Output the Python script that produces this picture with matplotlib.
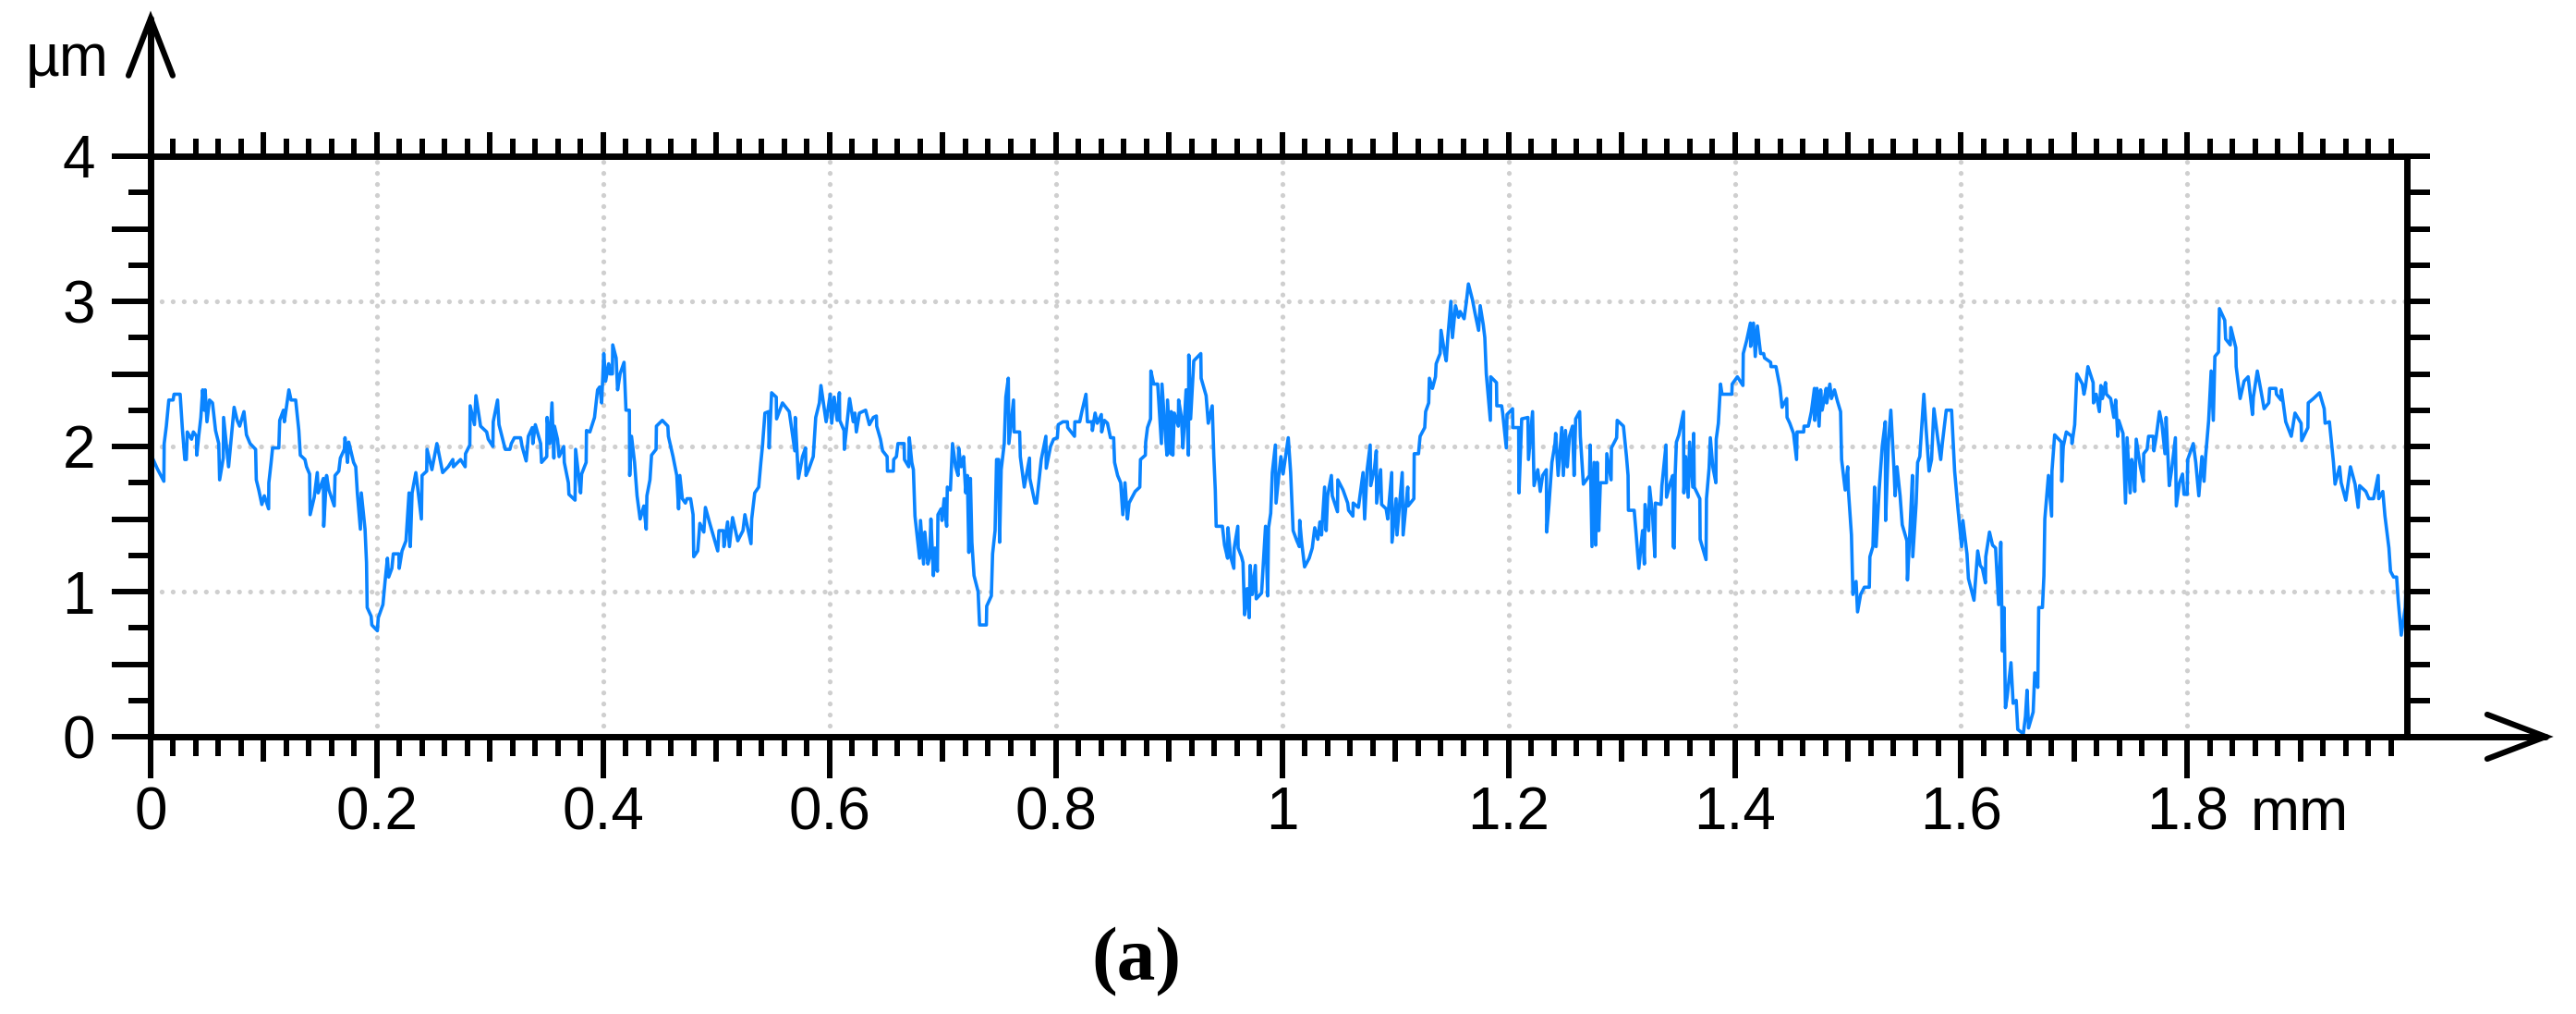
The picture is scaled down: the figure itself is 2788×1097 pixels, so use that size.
import numpy as np
import matplotlib
matplotlib.use("Agg")
import matplotlib.pyplot as plt
import matplotlib.transforms as mtransforms
from matplotlib.ticker import MultipleLocator, FixedLocator, FuncFormatter

plt.rcParams['font.family'] = ['Liberation Sans', 'DejaVu Sans']
plt.rcParams['lines.scale_dashes'] = False

# surface profile: (position mm, height um)
seg_a = [(0.000,1.95),(0.0057,1.85),(0.0117,1.76),(0.0120,2.02),(0.0139,2.14),(0.0161,2.32),(0.0199,2.32),(0.0207,2.36),(0.0261,2.36),(0.0280,2.13),(0.0302,1.91),(0.0316,1.91),(0.0324,2.10),(0.0362,2.05),(0.0378,2.10),(0.0406,2.07),(0.0408,1.94),(0.0425,2.07),(0.0444,2.20),(0.0460,2.39),(0.0474,2.25),(0.0482,2.39),(0.0498,2.17),(0.0520,2.32),(0.0547,2.30),(0.0574,2.11),(0.0602,2.02),(0.0610,1.77),(0.0642,1.92),(0.0645,2.20),(0.0689,1.86),(0.0738,2.27),(0.0765,2.18),(0.0787,2.14),(0.0825,2.24),(0.0847,2.08),(0.0879,2.02),(0.0928,1.98),(0.0934,1.77),(0.0956,1.70),(0.0983,1.60),(0.1005,1.66),(0.1043,1.57),(0.1045,1.75),(0.1065,1.89),(0.1078,1.99),(0.1133,1.99),(0.1141,2.18),(0.1174,2.25),(0.1182,2.17),(0.1222,2.39),(0.1241,2.32),(0.1282,2.32),(0.1310,2.11),(0.1323,1.94),(0.1364,1.91),(0.1378,1.86),(0.1405,1.81),(0.1410,1.53),(0.1446,1.65),(0.1473,1.82),(0.1481,1.68),(0.1527,1.78),(0.1530,1.45),(0.1555,1.80),(0.1576,1.70),(0.1623,1.59),(0.1630,1.80),(0.1663,1.83),(0.1677,1.92),(0.1712,1.98),(0.1718,2.06),(0.1740,1.89),(0.1751,2.03),(0.1794,1.89),(0.1813,1.86),(0.1827,1.68),(0.1854,1.43),(0.1862,1.68),(0.1895,1.43),(0.1908,1.20),(0.1914,0.89),(0.1949,0.83),(0.1955,0.77),(0.2004,0.73),(0.2012,0.82),(0.2053,0.91),(0.2072,1.07),(0.2093,1.23),(0.2104,1.10),(0.2132,1.16),(0.2145,1.26),(0.2194,1.26),(0.2197,1.16),(0.2222,1.28),(0.2257,1.35),(0.2284,1.68),(0.2295,1.31),(0.2311,1.68),(0.2344,1.82),(0.2393,1.50),(0.2399,1.80),(0.2440,1.83),(0.2443,1.98),(0.2486,1.84),(0.2508,1.93),(0.2530,2.02),(0.2581,1.82),(0.2630,1.86),(0.2671,1.91),(0.2676,1.86),(0.2739,1.91),(0.2780,1.86),(0.2783,1.95),(0.2821,2.01),(0.2824,2.28),(0.2862,2.15),(0.2875,2.35),(0.2916,2.14),(0.2970,2.10),(0.2984,2.05),(0.3025,2.00),(0.3028,2.17),(0.3066,2.32),(0.3079,2.15),(0.3134,1.98),(0.3175,1.98),(0.3188,2.02),(0.3215,2.06),(0.3270,2.06),(0.3283,2.00),(0.3319,1.90)]

seg_b = [(0.3338,2.07),(0.3373,2.13),(0.3378,2.02),(0.3400,2.15),(0.3447,2.02),(0.3455,1.89),(0.3501,1.93),(0.3504,2.20),(0.3528,2.02),(0.3547,2.30),(0.3564,1.92),(0.3569,2.14),(0.3596,2.05),(0.3610,1.93),(0.3651,2.00),(0.3656,1.89),(0.3692,1.75),(0.3697,1.67),(0.3751,1.63),(0.3756,1.98),(0.3800,1.68),(0.3809,1.81),(0.3849,1.89),(0.3852,2.11),(0.3882,2.10),(0.3923,2.20),(0.3950,2.39),(0.3969,2.41),(0.3986,2.30),(0.4005,2.64),(0.4021,2.45),(0.4048,2.57),(0.4059,2.50),(0.4081,2.50),(0.4084,2.70),(0.4114,2.61),(0.4127,2.39),(0.4149,2.50),(0.4184,2.58),(0.4201,2.25),(0.4231,2.25),(0.4234,1.80),(0.4250,2.07),(0.4277,1.89),(0.4299,1.66),(0.4326,1.50),(0.4359,1.59),(0.4380,1.43),(0.4386,1.66),(0.4413,1.77),(0.4427,1.94),(0.4467,1.98),(0.4470,2.14),(0.4522,2.18),(0.4571,2.14),(0.4576,2.07),(0.4617,1.93),(0.4650,1.80),(0.4666,1.57),(0.4677,1.80),(0.4699,1.64),(0.4726,1.61),(0.4740,1.64),(0.4772,1.64),(0.4794,1.53),(0.4800,1.24),(0.4835,1.28),(0.4854,1.47),(0.4889,1.41),(0.4903,1.58),(0.4938,1.48),(0.4971,1.39),(0.5012,1.28),(0.5023,1.42),(0.5061,1.42),(0.5067,1.31),(0.5099,1.48),(0.5115,1.31),(0.5143,1.51),(0.5189,1.35),(0.5235,1.42),(0.5252,1.53),(0.5306,1.33),(0.5312,1.50),(0.5339,1.68),(0.5374,1.72),(0.5393,1.89),(0.5407,2.00),(0.5429,2.23),(0.5461,2.24),(0.5466,1.99),(0.5488,2.37),(0.5529,2.34),(0.5532,2.19),(0.5584,2.30),(0.5644,2.24),(0.5693,1.97),(0.5697,2.20),(0.5725,1.78),(0.5761,1.93),(0.5788,1.99),(0.5792,1.80),(0.5815,1.84),(0.5856,1.93),(0.5878,2.20),(0.5910,2.30),(0.5924,2.42),(0.5970,2.17),(0.6006,2.36),(0.6019,2.16),(0.6041,2.34),(0.6068,2.18),(0.6087,2.37),(0.6090,2.18),(0.6128,2.11),(0.6131,1.98),(0.6155,2.16),(0.6177,2.33),(0.6210,2.17),(0.6224,2.23),(0.6237,2.10),(0.6264,2.23),(0.6319,2.25),(0.6352,2.15),(0.6387,2.20),(0.6414,2.21),(0.6417,2.14),(0.6450,2.05),(0.6469,1.97),(0.6509,1.93),(0.6512,1.83),(0.6564,1.83),(0.6567,1.91),(0.6591,1.93),(0.6605,2.02),(0.6659,2.02),(0.6662,1.91),(0.6700,1.86),(0.6705,2.06),(0.6727,1.89)]

seg_c = [(0.6741,1.84),(0.6755,1.52),(0.6796,1.23),(0.6804,1.49),(0.6831,1.19),(0.6842,1.41),(0.6869,1.19),(0.6885,1.24),(0.6896,1.50),(0.6918,1.11),(0.6932,1.30),(0.6953,1.14),(0.6958,1.53),(0.6986,1.57),(0.6994,1.49),(0.7013,1.64),(0.7035,1.45),(0.7041,1.72),(0.7068,1.70),(0.7087,2.02),(0.7114,1.86),(0.7136,1.80),(0.7141,1.99),(0.7163,1.86),(0.7185,1.93),(0.7204,1.68),(0.7218,1.80),(0.7231,1.27),(0.7245,1.78),(0.7258,1.34),(0.7277,1.11),(0.7313,1.00),(0.7326,0.77),(0.7386,0.77),(0.7389,0.90),(0.7430,0.97),(0.7441,1.26),(0.7463,1.42),(0.7476,1.91),(0.7495,1.91),(0.7503,1.34),(0.7517,1.84),(0.7544,2.02),(0.7558,2.34),(0.7580,2.47),(0.7585,2.02),(0.7626,2.32),(0.7631,2.10),(0.7680,2.10),(0.7686,1.93),(0.7721,1.72),(0.7767,1.92),(0.7770,1.78),(0.7816,1.61),(0.7830,1.61),(0.7871,1.91),(0.7912,2.07),(0.7915,1.85),(0.7953,2.00),(0.7980,2.05),(0.8013,2.06),(0.8021,2.15),(0.8062,2.17),(0.8102,2.17),(0.8105,2.13),(0.8165,2.07),(0.8168,2.17),(0.8211,2.17),(0.8230,2.24),(0.8266,2.36),(0.8279,2.17),(0.8320,2.17),(0.8323,2.11),(0.8347,2.23),(0.8366,2.16),(0.8402,2.22),(0.8405,2.10),(0.8429,2.18),(0.8456,2.16),(0.8483,2.06),(0.8511,2.06),(0.8519,1.89),(0.8546,1.80),(0.8573,1.75),(0.8592,1.53),(0.8611,1.75),(0.8633,1.50),(0.8647,1.61),(0.8701,1.69),(0.8742,1.72),(0.8748,1.91),(0.8791,1.94),(0.8794,2.03),(0.8810,2.13),(0.8837,2.19),(0.8840,2.52),(0.8865,2.43),(0.8900,2.43),(0.8933,2.02),(0.8938,2.43),(0.8965,2.11),(0.8982,1.94),(0.8987,2.32),(0.9014,1.95),(0.9020,2.24),(0.9034,1.94),(0.9047,2.23),(0.9082,2.14),(0.9085,2.32),(0.9110,2.20),(0.9123,1.99),(0.9151,2.39),(0.9172,1.94),(0.9175,2.63),(0.9191,2.19),(0.9219,2.59),(0.9281,2.64),(0.9284,2.47),(0.9328,2.35),(0.9347,2.16),(0.9382,2.28),(0.9396,1.93),(0.9409,1.70),(0.9417,1.45),(0.9472,1.45),(0.9491,1.32),(0.9518,1.23),(0.9521,1.44),(0.9545,1.24),(0.9573,1.16),(0.9576,1.30),(0.9608,1.45),(0.9611,1.30),(0.9641,1.24),(0.9654,1.20),(0.9668,0.84),(0.9690,1.02),(0.9709,0.82),(0.9717,1.18),(0.9736,0.98),(0.9763,1.18),(0.9771,0.95),(0.9818,0.99),(0.9831,1.16),(0.9853,1.45),(0.9872,0.97),(0.9880,1.44),(0.9899,1.54),(0.9913,1.82),(0.9940,2.01),(0.9946,1.61),(0.9973,1.82),(0.9989,1.93),(1.0008,1.81)]

seg_d = [(1.0054,2.06),(1.0075,1.82),(1.0097,1.42),(1.0130,1.35),(1.0152,1.31),(1.0155,1.49),(1.0171,1.35),(1.0198,1.17),(1.0239,1.23),(1.0266,1.30),(1.0288,1.44),(1.0315,1.36),(1.0334,1.48),(1.0348,1.39),(1.0375,1.72),(1.0389,1.42),(1.0402,1.66),(1.0435,1.80),(1.0443,1.66),(1.0489,1.55),(1.0492,1.77),(1.0538,1.70),(1.0579,1.61),(1.0587,1.56),(1.0625,1.52),(1.0628,1.61),(1.0674,1.58),(1.0715,1.82),(1.0729,1.50),(1.0751,1.84),(1.0778,2.01),(1.0783,1.73),(1.0816,1.85),(1.0832,1.97),(1.0835,1.61),(1.0870,1.84),(1.0879,1.60),(1.0919,1.57),(1.0933,1.50),(1.0968,1.82),(1.0971,1.34),(1.1007,1.64),(1.1015,1.39),(1.1042,1.64),(1.1061,1.82),(1.1069,1.39),(1.1110,1.72),(1.1113,1.59),(1.1164,1.64),(1.1167,1.95),(1.1205,1.95),(1.1219,2.07),(1.1260,2.13),(1.1268,2.24),(1.1295,2.30),(1.1301,2.47),(1.1328,2.40),(1.1355,2.48),(1.1361,2.57),(1.1396,2.64),(1.1404,2.80),(1.1437,2.64),(1.1450,2.59),(1.1464,2.75),(1.1491,3.00),(1.1505,2.75),(1.1532,2.97),(1.1559,2.89),(1.1573,2.93),(1.1608,2.88),(1.1627,2.99),(1.1646,3.12),(1.1682,3.01),(1.1704,2.92),(1.1736,2.80),(1.1750,2.97),(1.1777,2.84),(1.1791,2.75),(1.1804,2.50),(1.1840,2.18),(1.1843,2.48),(1.1894,2.44),(1.1897,2.28),(1.1940,2.28),(1.1949,2.23),(1.1981,1.99),(1.1987,2.22),(1.2036,2.26),(1.2039,2.13),(1.2090,2.13),(1.2093,1.68),(1.2117,2.19),(1.2172,2.20),(1.2177,1.91),(1.2213,2.24),(1.2226,1.73),(1.2259,1.84),(1.2281,1.69),(1.2302,1.80),(1.2335,1.84),(1.2338,1.41),(1.2357,1.59),(1.2384,1.89),(1.2411,2.02),(1.2417,2.09),(1.2439,1.80),(1.2471,2.13),(1.2485,1.80),(1.2504,2.11),(1.2520,1.86),(1.2539,2.07),(1.2566,2.14),(1.2580,1.80),(1.2594,2.19),(1.2629,2.24),(1.2635,2.07),(1.2662,1.74),(1.2716,1.80),(1.2722,2.01),(1.2738,1.31),(1.2757,1.89),(1.2771,1.32),(1.2784,1.89),(1.2798,1.42),(1.2812,1.75),(1.2866,1.75),(1.2869,1.95),(1.2907,1.77),(1.2910,1.99),(1.2956,2.06),(1.2961,2.18),(1.3016,2.14),(1.3043,1.93),(1.3057,1.80),(1.3060,1.56),(1.3111,1.56),(1.3125,1.43),(1.3152,1.16),(1.3185,1.42),(1.3201,1.19),(1.3207,1.60),(1.3239,1.42),(1.3247,1.72),(1.3274,1.52),(1.3294,1.24),(1.3298,1.61),(1.3348,1.60),(1.3356,1.73)]

seg_e = [(1.3392,2.01),(1.3397,1.65),(1.3430,1.75),(1.3452,1.80),(1.3455,1.31),(1.3465,1.30),(1.3473,1.80),(1.3484,2.03),(1.3506,2.08),(1.3547,2.24),(1.3550,1.68),(1.3566,1.93),(1.3588,1.65),(1.3601,2.03),(1.3629,1.72),(1.3637,2.09),(1.3642,1.72),(1.3691,1.64),(1.3694,1.36),(1.3746,1.22),(1.3750,1.64),(1.3773,1.85),(1.3784,2.06),(1.3806,1.86),(1.3833,1.75),(1.3836,2.05),(1.3855,2.16),(1.3874,2.43),(1.3887,2.36),(1.3974,2.36),(1.3977,2.43),(1.4023,2.48),(1.4072,2.42),(1.4075,2.64),(1.4105,2.73),(1.4138,2.85),(1.4140,2.69),(1.4165,2.85),(1.4181,2.62),(1.4200,2.83),(1.4228,2.64),(1.4255,2.64),(1.4263,2.61),(1.4317,2.58),(1.4320,2.55),(1.4364,2.55),(1.4399,2.41),(1.4418,2.27),(1.4459,2.33),(1.4462,2.20),(1.4486,2.16),(1.4519,2.09),(1.4546,1.91),(1.4550,2.10),(1.4609,2.10),(1.4612,2.14),(1.4650,2.14),(1.4677,2.24),(1.4704,2.40),(1.4707,2.18),(1.4726,2.40),(1.4745,2.14),(1.4759,2.39),(1.4772,2.25),(1.4808,2.40),(1.4813,2.30),(1.4840,2.43),(1.4854,2.33),(1.4881,2.39),(1.4908,2.31),(1.4935,2.24),(1.4944,1.91),(1.4976,1.70),(1.4998,1.86),(1.5004,1.70),(1.5031,1.39),(1.5044,0.98),(1.5072,1.07),(1.5085,0.86),(1.5112,0.98),(1.5145,1.03),(1.5189,1.03),(1.5194,1.24),(1.5221,1.31),(1.5235,1.72),(1.5249,1.31),(1.5276,1.70),(1.5303,2.00),(1.5330,2.17),(1.5333,1.49),(1.5358,2.03),(1.5379,2.25),(1.5406,1.86),(1.5417,1.66),(1.5434,1.86),(1.5461,1.66),(1.5480,1.46),(1.5521,1.35),(1.5526,1.08),(1.5548,1.42),(1.5570,1.80),(1.5573,1.24),(1.5603,1.61),(1.5616,1.89),(1.5635,1.93),(1.5671,2.36),(1.5690,2.13),(1.5717,1.83),(1.5739,1.91),(1.5760,2.26),(1.5793,2.06),(1.5820,1.91),(1.5834,2.02),(1.5869,2.25),(1.5916,2.25),(1.5943,1.83),(1.5970,1.59),(1.5984,1.48),(1.6005,1.31),(1.6016,1.49),(1.6052,1.26),(1.6065,1.09),(1.6114,0.94),(1.6147,1.28),(1.6169,1.18),(1.6188,1.16),(1.6215,1.06),(1.6218,1.24),(1.6251,1.41),(1.6278,1.32),(1.6305,1.30),(1.6332,0.91),(1.6351,1.34),(1.6365,0.59),(1.6379,0.89),(1.6392,0.20),(1.6406,0.27),(1.6441,0.51),(1.6460,0.23),(1.6487,0.25),(1.6501,0.05),(1.6550,0.02),(1.6569,0.14),(1.6583,0.32),(1.6596,0.06),(1.6637,0.17),(1.6651,0.44),(1.6678,0.34),(1.6686,0.89),(1.6719,0.89)]

seg_f = [(1.6732,1.11),(1.6740,1.50),(1.6772,1.80),(1.6800,1.52),(1.6803,1.83),(1.6827,2.08),(1.6887,2.03),(1.6890,1.76),(1.6903,2.00),(1.6930,2.10),(1.6977,2.07),(1.6980,2.02),(1.7004,2.15),(1.7023,2.50),(1.7072,2.43),(1.7086,2.36),(1.7099,2.41),(1.7121,2.55),(1.7167,2.44),(1.7170,2.30),(1.7194,2.36),(1.7222,2.24),(1.7235,2.42),(1.7249,2.33),(1.7276,2.44),(1.7284,2.36),(1.7322,2.33),(1.7350,2.20),(1.7366,2.32),(1.7385,2.07),(1.7393,2.18),(1.7431,2.09),(1.7453,1.61),(1.7467,2.06),(1.7494,1.68),(1.7508,1.91),(1.7524,1.84),(1.7535,1.69),(1.7548,2.05),(1.7584,1.86),(1.7611,1.76),(1.7614,1.95),(1.7644,1.98),(1.7657,2.07),(1.7698,2.07),(1.7704,1.97),(1.7725,2.07),(1.7753,2.24),(1.7774,2.16),(1.7802,1.95),(1.7812,2.20),(1.7840,1.73),(1.7861,1.84),(1.7894,2.06),(1.7902,1.59),(1.7930,1.75),(1.7957,1.81),(1.7970,1.67),(1.7998,1.67),(1.8003,1.91),(1.8052,2.02),(1.8074,1.89),(1.8101,1.66),(1.8128,1.93),(1.8147,1.76),(1.8161,1.93),(1.8188,2.18),(1.8210,2.52),(1.8229,2.18),(1.8243,2.62),(1.8275,2.65),(1.8283,2.95),(1.8330,2.87),(1.8338,2.74),(1.8379,2.70),(1.8384,2.82),(1.8428,2.68),(1.8431,2.55),(1.8466,2.33),(1.8501,2.45),(1.8537,2.48),(1.8575,2.22),(1.8583,2.34),(1.8618,2.52),(1.8651,2.38),(1.8678,2.26),(1.8719,2.30),(1.8727,2.40),(1.8782,2.40),(1.8787,2.36),(1.8828,2.32),(1.8831,2.39),(1.8869,2.17),(1.8918,2.07),(1.8951,2.23),(1.9005,2.16),(1.9010,2.04),(1.9065,2.13),(1.9068,2.30),(1.9114,2.33),(1.9168,2.37),(1.9209,2.26),(1.9217,2.16),(1.9255,2.17),(1.9291,1.89),(1.9305,1.74),(1.9345,1.86),(1.9359,1.75),(1.9400,1.63),(1.9441,1.86),(1.9482,1.74),(1.9509,1.58),(1.9522,1.73),(1.9577,1.69),(1.9604,1.64),(1.9645,1.64),(1.9686,1.80),(1.9691,1.64),(1.9727,1.69),(1.9746,1.52),(1.9781,1.30),(1.9795,1.14),(1.9822,1.10),(1.9849,1.10),(1.9863,0.94),(1.9890,0.70),(1.9925,0.89),(1.9936,1.11)]

x_ticks = [0, 0.2, 0.4, 0.6, 0.8, 1.0, 1.2, 1.4, 1.6, 1.8]
x_tick_labels = ['0', '0.2', '0.4', '0.6', '0.8', '1', '1.2', '1.4', '1.6', '1.8']
y_grid = [1, 2, 3]

profile = seg_a + seg_b + seg_c + seg_d + seg_e + seg_f
x_mm = np.array([p[0] for p in profile])
z_um = np.array([p[1] for p in profile])

W, H = 2788, 1097
fig = plt.figure(figsize=(W / 100, H / 100), dpi=100)
ax = fig.add_axes([163 / W, 300 / H, 2442 / W, 628 / H])

LW = 5
TW = 4.3
FS = 46
blue = '#0a84ff'
grid_c = '#cfcfcf'

ax.set_xlim(0, 1.994)
ax.set_ylim(0, 4)
for s in ax.spines.values():
    s.set_linewidth(LW)

# dotted grid
for gx in x_ticks[1:]:
    ax.axvline(gx, color=grid_c, lw=3.8, linestyle=(0, (0.01, 8.6)),
               dash_capstyle='round', zorder=1)
for gy in y_grid:
    ax.axhline(gy, color=grid_c, lw=3.8, linestyle=(0, (0.01, 8.6)),
               dash_capstyle='round', zorder=1)

ax.plot(x_mm, z_um, color=blue, lw=2.6, zorder=2)

# bottom axis ticks
ax.xaxis.set_major_locator(FixedLocator(x_ticks))
ax.set_xticklabels(x_tick_labels)
ax.xaxis.set_minor_locator(MultipleLocator(0.02))
ax.tick_params(axis='x', which='major', direction='out', length=32.4, width=TW,
               pad=6, labelsize=FS, top=False)
ax.tick_params(axis='x', which='minor', direction='out', length=15.1, width=TW, top=False)

sec_b = ax.secondary_xaxis('bottom')
sec_b.set_ticks(np.arange(0.1, 1.95, 0.2))
sec_b.tick_params(length=19.4, width=TW, labelbottom=False)
sec_b.spines['bottom'].set_visible(False)

sec_t = ax.secondary_xaxis('top')
sec_t.set_ticks(np.arange(0.1, 1.95, 0.1))
sec_t.xaxis.set_minor_locator(MultipleLocator(0.02))
sec_t.tick_params(which='major', length=18.7, width=TW, labeltop=False)
sec_t.tick_params(which='minor', length=13.7, width=TW)
sec_t.spines['top'].set_visible(False)

# left axis ticks
ax.yaxis.set_major_locator(MultipleLocator(0.5))
ax.yaxis.set_major_formatter(FuncFormatter(lambda v, p: f'{v:g}' if v == int(v) else ''))
ax.yaxis.set_minor_locator(MultipleLocator(0.25))
ax.tick_params(axis='y', which='major', length=30.2, width=TW, pad=13,
               labelsize=FS, right=False)
ax.tick_params(axis='y', which='minor', length=17.3, width=TW, right=False)

sec_r = ax.secondary_yaxis('right')
sec_r.set_ticks(np.arange(0, 4.01, 0.25))
sec_r.tick_params(length=18, width=TW, labelright=False)
sec_r.spines['right'].set_visible(False)

# axis arrows
kw = dict(transform=ax.transAxes, color='k', clip_on=False,
          solid_capstyle='round', solid_joinstyle='miter')
ax.plot([0, 0], [1, 1.237], lw=LW, **kw)
ax.plot([-0.0098, 0, 0.0098], [1.139, 1.237, 1.139], lw=4.5, **kw)
ax.plot([1, 1.0614], [0, 0], lw=LW, **kw)
ax.plot([1.0356, 1.0614, 1.0356], [0.0382, 0, -0.0382], lw=4.5, **kw)

fig.text(28 / W, (H - 82) / H, 'µm', fontsize=FS, ha='left', va='baseline')
trans = mtransforms.blended_transform_factory(ax.transData, ax.transAxes)
ax.text(1.8556, -0.1608, 'mm', transform=trans, fontsize=FS, ha='left', va='baseline')
fig.text(1230 / W, 0.0337, '(a)', family=['Liberation Serif', 'DejaVu Serif'],
         weight='bold', fontsize=60, ha='center', va='baseline')

fig.savefig('out.png', dpi=100)
